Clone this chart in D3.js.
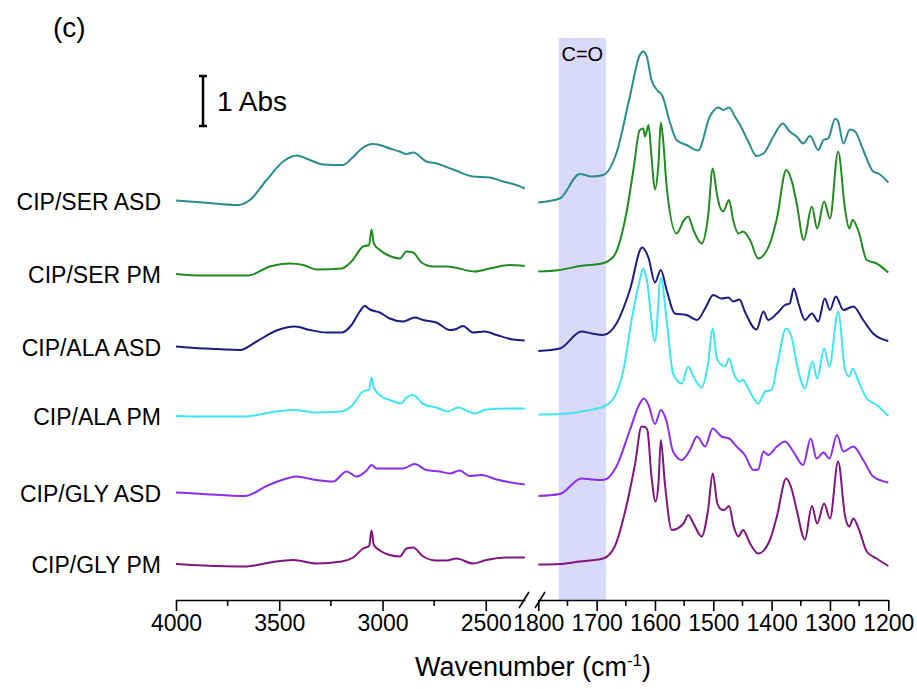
<!DOCTYPE html>
<html>
<head>
<meta charset="utf-8">
<script src="https://cdn.jsdelivr.net/npm/d3@7"></script>
<style>
  html, body { margin: 0; padding: 0; background: #fff; }
  #chart { width: 917px; height: 689px; }
  text { font-family: "Liberation Sans", Arial, sans-serif; fill: #000; }
</style>
</head>
<body>
<div id="chart"></div>
<script>
// tick labels for the two halves of the broken wavenumber axis
const ticksHigh = [4000, 3500, 3000, 2500];
const minorHigh = [3750, 3250, 2750];
const ticksLow = [1800, 1700, 1600, 1500, 1400, 1300, 1200];
const minorLow = [1750, 1650, 1550, 1450, 1350, 1250];

const seriesNames = ["CIP/SER ASD", "CIP/SER PM", "CIP/ALA ASD", "CIP/ALA PM", "CIP/GLY ASD", "CIP/GLY PM"];
const seriesColors = ["#2b8c8c", "#1f8c1f", "#1c1c82", "#3ee6f0", "#8a2ff0", "#801480"];

// C=O band (cm-1)
const carbonylBand = [1765, 1684];

// stacked absorbance, [wavenumber, abs]; "High" = 4000-2310, "Low" = 1800-1200
const serAsdHigh = [[4000,7.99],[3868,7.95],[3699,7.90],[3642,8.00],[3561,8.40],[3481,8.77],[3416,8.89],[3352,8.80],[3287,8.71],[3191,8.70],[3150,8.83],[3094,9.05],[3048,9.12],[3013,9.10],[2965,9.03],[2916,8.97],[2884,8.92],[2852,8.95],[2787,8.77],[2739,8.73],[2658,8.61],[2562,8.47],[2481,8.45],[2416,8.37],[2352,8.30],[2311,8.23]];
const serAsdLow = [[1800,7.95],[1763,8.03],[1729,8.52],[1708,8.47],[1689,8.50],[1666,8.94],[1643,10.07],[1626,10.90],[1620,10.97],[1614,10.87],[1606,10.40],[1594,10.17],[1588,10.10],[1574,9.54],[1563,9.20],[1546,9.10],[1526,8.99],[1506,9.67],[1491,9.85],[1483,9.80],[1473,9.85],[1463,9.67],[1454,9.50],[1440,9.17],[1426,8.88],[1414,8.93],[1397,9.27],[1381,9.53],[1369,9.37],[1357,9.27],[1346,9.13],[1334,9.28],[1320,9.00],[1311,9.20],[1303,9.23],[1291,9.63],[1286,9.57],[1277,9.13],[1266,9.41],[1257,9.37],[1243,9.00],[1226,8.57],[1217,8.53],[1200,8.35]];

const serPmHigh = [[4000,6.52],[3868,6.49],[3650,6.49],[3545,6.67],[3448,6.73],[3384,6.70],[3319,6.61],[3198,6.63],[3150,6.77],[3094,7.07],[3065,7.10],[3053,7.41],[3042,7.13],[3013,7.00],[2965,6.88],[2916,6.83],[2884,6.97],[2852,6.95],[2811,6.75],[2755,6.67],[2690,6.67],[2650,6.65],[2553,6.57],[2481,6.63],[2384,6.70],[2311,6.68]];
const serPmLow = [[1800,6.57],[1763,6.60],[1729,6.68],[1691,6.73],[1671,6.87],[1648,7.80],[1637,8.60],[1626,9.40],[1620,9.43],[1617,9.27],[1611,9.50],[1606,8.87],[1600,8.21],[1594,8.73],[1590,9.55],[1586,9.20],[1580,8.27],[1563,7.33],[1550,7.60],[1543,7.67],[1534,7.40],[1520,7.13],[1509,7.67],[1501,8.63],[1494,8.13],[1489,7.87],[1483,7.77],[1473,8.00],[1466,7.60],[1457,7.33],[1449,7.37],[1437,7.20],[1423,6.83],[1403,7.13],[1391,7.63],[1375,8.60],[1366,8.40],[1357,7.93],[1345,7.20],[1331,7.87],[1322,7.43],[1310,7.97],[1300,7.63],[1286,8.97],[1274,7.80],[1267,7.43],[1261,7.60],[1251,7.37],[1237,6.80],[1220,6.73],[1200,6.55]];

const alaAsdHigh = [[4000,5.07],[3868,5.03],[3690,5.00],[3610,5.17],[3513,5.39],[3424,5.47],[3352,5.40],[3271,5.35],[3198,5.35],[3150,5.50],[3110,5.77],[3086,5.88],[3061,5.81],[3013,5.75],[2965,5.63],[2900,5.57],[2844,5.65],[2803,5.60],[2739,5.55],[2674,5.40],[2650,5.41],[2610,5.48],[2562,5.35],[2505,5.37],[2448,5.30],[2368,5.21],[2311,5.19]];
const alaAsdLow = [[1800,4.98],[1763,5.03],[1726,5.37],[1708,5.33],[1689,5.30],[1666,5.53],[1643,6.20],[1622,7.05],[1611,6.84],[1600,6.35],[1590,6.60],[1580,6.20],[1566,5.73],[1546,5.70],[1528,5.60],[1514,5.83],[1500,6.10],[1486,6.03],[1474,6.05],[1466,5.97],[1455,6.01],[1446,5.77],[1426,5.41],[1414,5.77],[1406,5.60],[1391,5.73],[1377,5.90],[1369,5.93],[1362,6.23],[1354,5.93],[1343,5.60],[1331,5.73],[1320,5.57],[1309,6.03],[1300,5.80],[1290,6.07],[1277,5.80],[1260,5.87],[1243,5.60],[1226,5.33],[1200,5.18]];

const alaPmHigh = [[4000,3.68],[3868,3.67],[3658,3.67],[3545,3.75],[3432,3.80],[3319,3.75],[3198,3.77],[3150,3.88],[3094,4.17],[3065,4.21],[3053,4.45],[3042,4.25],[3005,4.07],[2965,4.00],[2908,3.93],[2884,4.05],[2852,4.10],[2803,3.92],[2739,3.85],[2683,3.77],[2634,3.85],[2553,3.73],[2497,3.81],[2400,3.83],[2311,3.83]];
const alaPmLow = [[1800,3.71],[1763,3.72],[1711,3.80],[1686,3.88],[1669,4.07],[1654,4.60],[1640,5.60],[1626,6.40],[1620,6.63],[1614,6.40],[1600,5.17],[1590,6.44],[1580,5.60],[1569,4.53],[1554,4.33],[1543,4.67],[1534,4.47],[1520,4.25],[1509,4.73],[1501,5.43],[1494,4.83],[1486,4.70],[1480,4.67],[1473,4.83],[1465,4.53],[1455,4.37],[1449,4.40],[1440,4.23],[1423,3.93],[1411,4.17],[1400,4.20],[1391,4.67],[1375,5.43],[1366,5.27],[1357,4.73],[1343,4.23],[1330,4.77],[1322,4.43],[1310,5.03],[1301,4.67],[1286,5.77],[1274,4.60],[1267,4.47],[1261,4.63],[1251,4.37],[1237,4.03],[1220,3.90],[1200,3.68]];

const glyAsdHigh = [[4000,2.15],[3868,2.12],[3666,2.08],[3561,2.28],[3464,2.43],[3416,2.47],[3336,2.41],[3239,2.37],[3174,2.57],[3126,2.47],[3077,2.59],[3053,2.70],[3029,2.63],[2965,2.63],[2900,2.63],[2844,2.72],[2787,2.60],[2723,2.57],[2674,2.53],[2626,2.59],[2578,2.48],[2521,2.50],[2448,2.41],[2311,2.31]];
const glyAsdLow = [[1800,2.08],[1763,2.12],[1726,2.43],[1708,2.41],[1689,2.40],[1666,2.67],[1643,3.40],[1626,3.93],[1619,4.03],[1611,3.90],[1600,3.52],[1590,3.80],[1580,3.57],[1569,2.97],[1554,2.80],[1540,3.00],[1528,3.27],[1514,3.07],[1501,3.43],[1486,3.27],[1473,3.23],[1460,3.07],[1446,2.90],[1431,2.60],[1423,2.61],[1414,2.97],[1406,2.90],[1391,3.07],[1377,3.17],[1363,2.97],[1346,2.70],[1333,3.23],[1323,2.83],[1311,2.95],[1301,2.83],[1288,3.30],[1277,2.97],[1260,3.07],[1243,2.80],[1226,2.47],[1200,2.35]];

const glyPmHigh = [[4000,0.72],[3868,0.69],[3658,0.67],[3545,0.75],[3432,0.80],[3319,0.73],[3198,0.77],[3142,0.85],[3094,1.03],[3065,1.08],[3053,1.39],[3042,1.10],[3005,0.97],[2965,0.90],[2916,0.87],[2884,1.03],[2852,1.05],[2803,0.87],[2739,0.79],[2690,0.79],[2642,0.83],[2562,0.73],[2497,0.80],[2400,0.85],[2311,0.85]];
const glyPmLow = [[1800,0.71],[1763,0.72],[1729,0.77],[1689,0.83],[1669,1.07],[1648,1.93],[1634,2.73],[1623,3.47],[1617,3.46],[1613,3.40],[1606,2.47],[1599,1.97],[1594,2.33],[1590,3.20],[1583,2.33],[1571,1.40],[1551,1.53],[1543,1.70],[1534,1.53],[1520,1.27],[1509,1.80],[1501,2.53],[1493,1.93],[1486,1.81],[1481,1.80],[1473,1.88],[1465,1.47],[1457,1.27],[1449,1.40],[1437,1.13],[1423,0.93],[1403,1.20],[1391,1.67],[1375,2.43],[1366,2.23],[1357,1.80],[1343,1.21],[1331,1.88],[1322,1.53],[1310,1.93],[1300,1.63],[1286,2.77],[1274,1.67],[1267,1.47],[1260,1.63],[1250,1.40],[1237,0.97],[1220,0.83],[1200,0.68]];

const spectraHigh = [serAsdHigh, serPmHigh, alaAsdHigh, alaPmHigh, glyAsdHigh, glyPmHigh];
const spectraLow = [serAsdLow, serPmLow, alaAsdLow, alaPmLow, glyAsdLow, glyPmLow];

class BrokenAxisSpectra {
  constructor({ el }) {
    this.el = el;
    this.init();
  }

  init() {
    this.width = 917;
    this.height = 689;
    this.axisY = 600;

    this.xHigh = d3.scaleLinear().domain([4000, 2310]).range([176, 525]);
    this.xLow = d3.scaleLinear().domain([1800, 1200]).range([538.3, 888.3]);
    this.y = d3.scaleLinear().domain([0, 12]).range([this.axisY, 0]);

    this.svg = d3
      .select(this.el)
      .append("svg")
      .attr("width", this.width)
      .attr("height", this.height)
      .attr("viewBox", [0, 0, this.width, this.height]);

    this.render();
  }

  render() {
    const { svg, xHigh, xLow, y } = this;

    // C=O highlight
    svg
      .append("rect")
      .attr("x", xLow(carbonylBand[0]))
      .attr("width", xLow(carbonylBand[1]) - xLow(carbonylBand[0]))
      .attr("y", 38)
      .attr("height", this.axisY - 38)
      .attr("fill", "#d9d9f8");

    svg
      .append("text")
      .attr("x", xLow((carbonylBand[0] + carbonylBand[1]) / 2))
      .attr("y", 61)
      .attr("text-anchor", "middle")
      .attr("font-size", 20)
      .text("C=O");

    // spectra, one path per half
    const lineHigh = d3.line().x((d) => xHigh(d[0])).y((d) => y(d[1])).curve(d3.curveMonotoneX);
    const lineLow = d3.line().x((d) => xLow(d[0])).y((d) => y(d[1])).curve(d3.curveMonotoneX);

    const gLines = svg.append("g").attr("fill", "none").attr("stroke-width", 2).attr("stroke-linejoin", "round");
    spectraHigh.forEach((d, i) => {
      gLines.append("path").attr("d", lineHigh(d)).attr("stroke", seriesColors[i]);
      gLines.append("path").attr("d", lineLow(spectraLow[i])).attr("stroke", seriesColors[i]);
    });

    svg
      .append("g")
      .attr("font-size", 23)
      .attr("text-anchor", "end")
      .selectAll("text")
      .data(seriesNames)
      .join("text")
      .attr("x", 161)
      .attr("y", (d, i) => y(spectraHigh[i][0][1]) + 1)
      .attr("dy", "0.35em")
      .text((d) => d);

    // axes
    const fmt = d3.format("d");
    const axisHigh = d3.axisBottom(xHigh).tickValues(ticksHigh).tickFormat(fmt).tickSize(11).tickSizeOuter(0).tickPadding(4);
    const axisLow = d3.axisBottom(xLow).tickValues(ticksLow).tickFormat(fmt).tickSize(11).tickSizeOuter(0).tickPadding(4);
    [axisHigh, axisLow].forEach((axis) => {
      const g = svg
        .append("g")
        .attr("transform", `translate(0,${this.axisY})`)
        .attr("font-size", 23)
        .attr("font-family", null)
        .call(axis);
      g.selectAll("path, line").attr("stroke", "#000").attr("stroke-width", 1.6);
      g.selectAll("text").attr("font-size", 23).attr("fill", "#000");
    });
    svg
      .append("g")
      .attr("stroke", "#000")
      .attr("stroke-width", 1.6)
      .selectAll("line")
      .data(minorHigh.map((d) => xHigh(d)).concat(minorLow.map((d) => xLow(d))))
      .join("line")
      .attr("x1", (d) => d)
      .attr("x2", (d) => d)
      .attr("y1", this.axisY)
      .attr("y2", this.axisY + 6);

    // break marks
    svg
      .append("g")
      .attr("stroke", "#000")
      .attr("stroke-width", 1.6)
      .selectAll("line")
      .data([524, 540])
      .join("line")
      .attr("x1", (d) => d - 5)
      .attr("x2", (d) => d + 5)
      .attr("y1", this.axisY + 8)
      .attr("y2", this.axisY - 8);

    const title = svg
      .append("text")
      .attr("x", 533)
      .attr("y", 676)
      .attr("text-anchor", "middle")
      .attr("font-size", 27);
    title.append("tspan").text("Wavenumber (cm");
    title.append("tspan").attr("dy", -10).attr("font-size", 17).text("-1");
    title.append("tspan").attr("dy", 10).text(")");

    // 1 Abs scale bar
    const bar = svg.append("g").attr("stroke", "#000").attr("stroke-width", 2.5);
    bar.append("line").attr("x1", 203).attr("x2", 203).attr("y1", y(9.48)).attr("y2", y(10.48));
    bar.append("line").attr("x1", 199).attr("x2", 207).attr("y1", y(9.48)).attr("y2", y(9.48));
    bar.append("line").attr("x1", 199).attr("x2", 207).attr("y1", y(10.48)).attr("y2", y(10.48));
    svg.append("text").attr("x", 217).attr("y", 111).attr("font-size", 28).text("1 Abs");

    svg.append("text").attr("x", 53).attr("y", 37).attr("font-size", 28).text("(c)");
  }
}

new BrokenAxisSpectra({ el: document.getElementById("chart") });
</script>
</body>
</html>
